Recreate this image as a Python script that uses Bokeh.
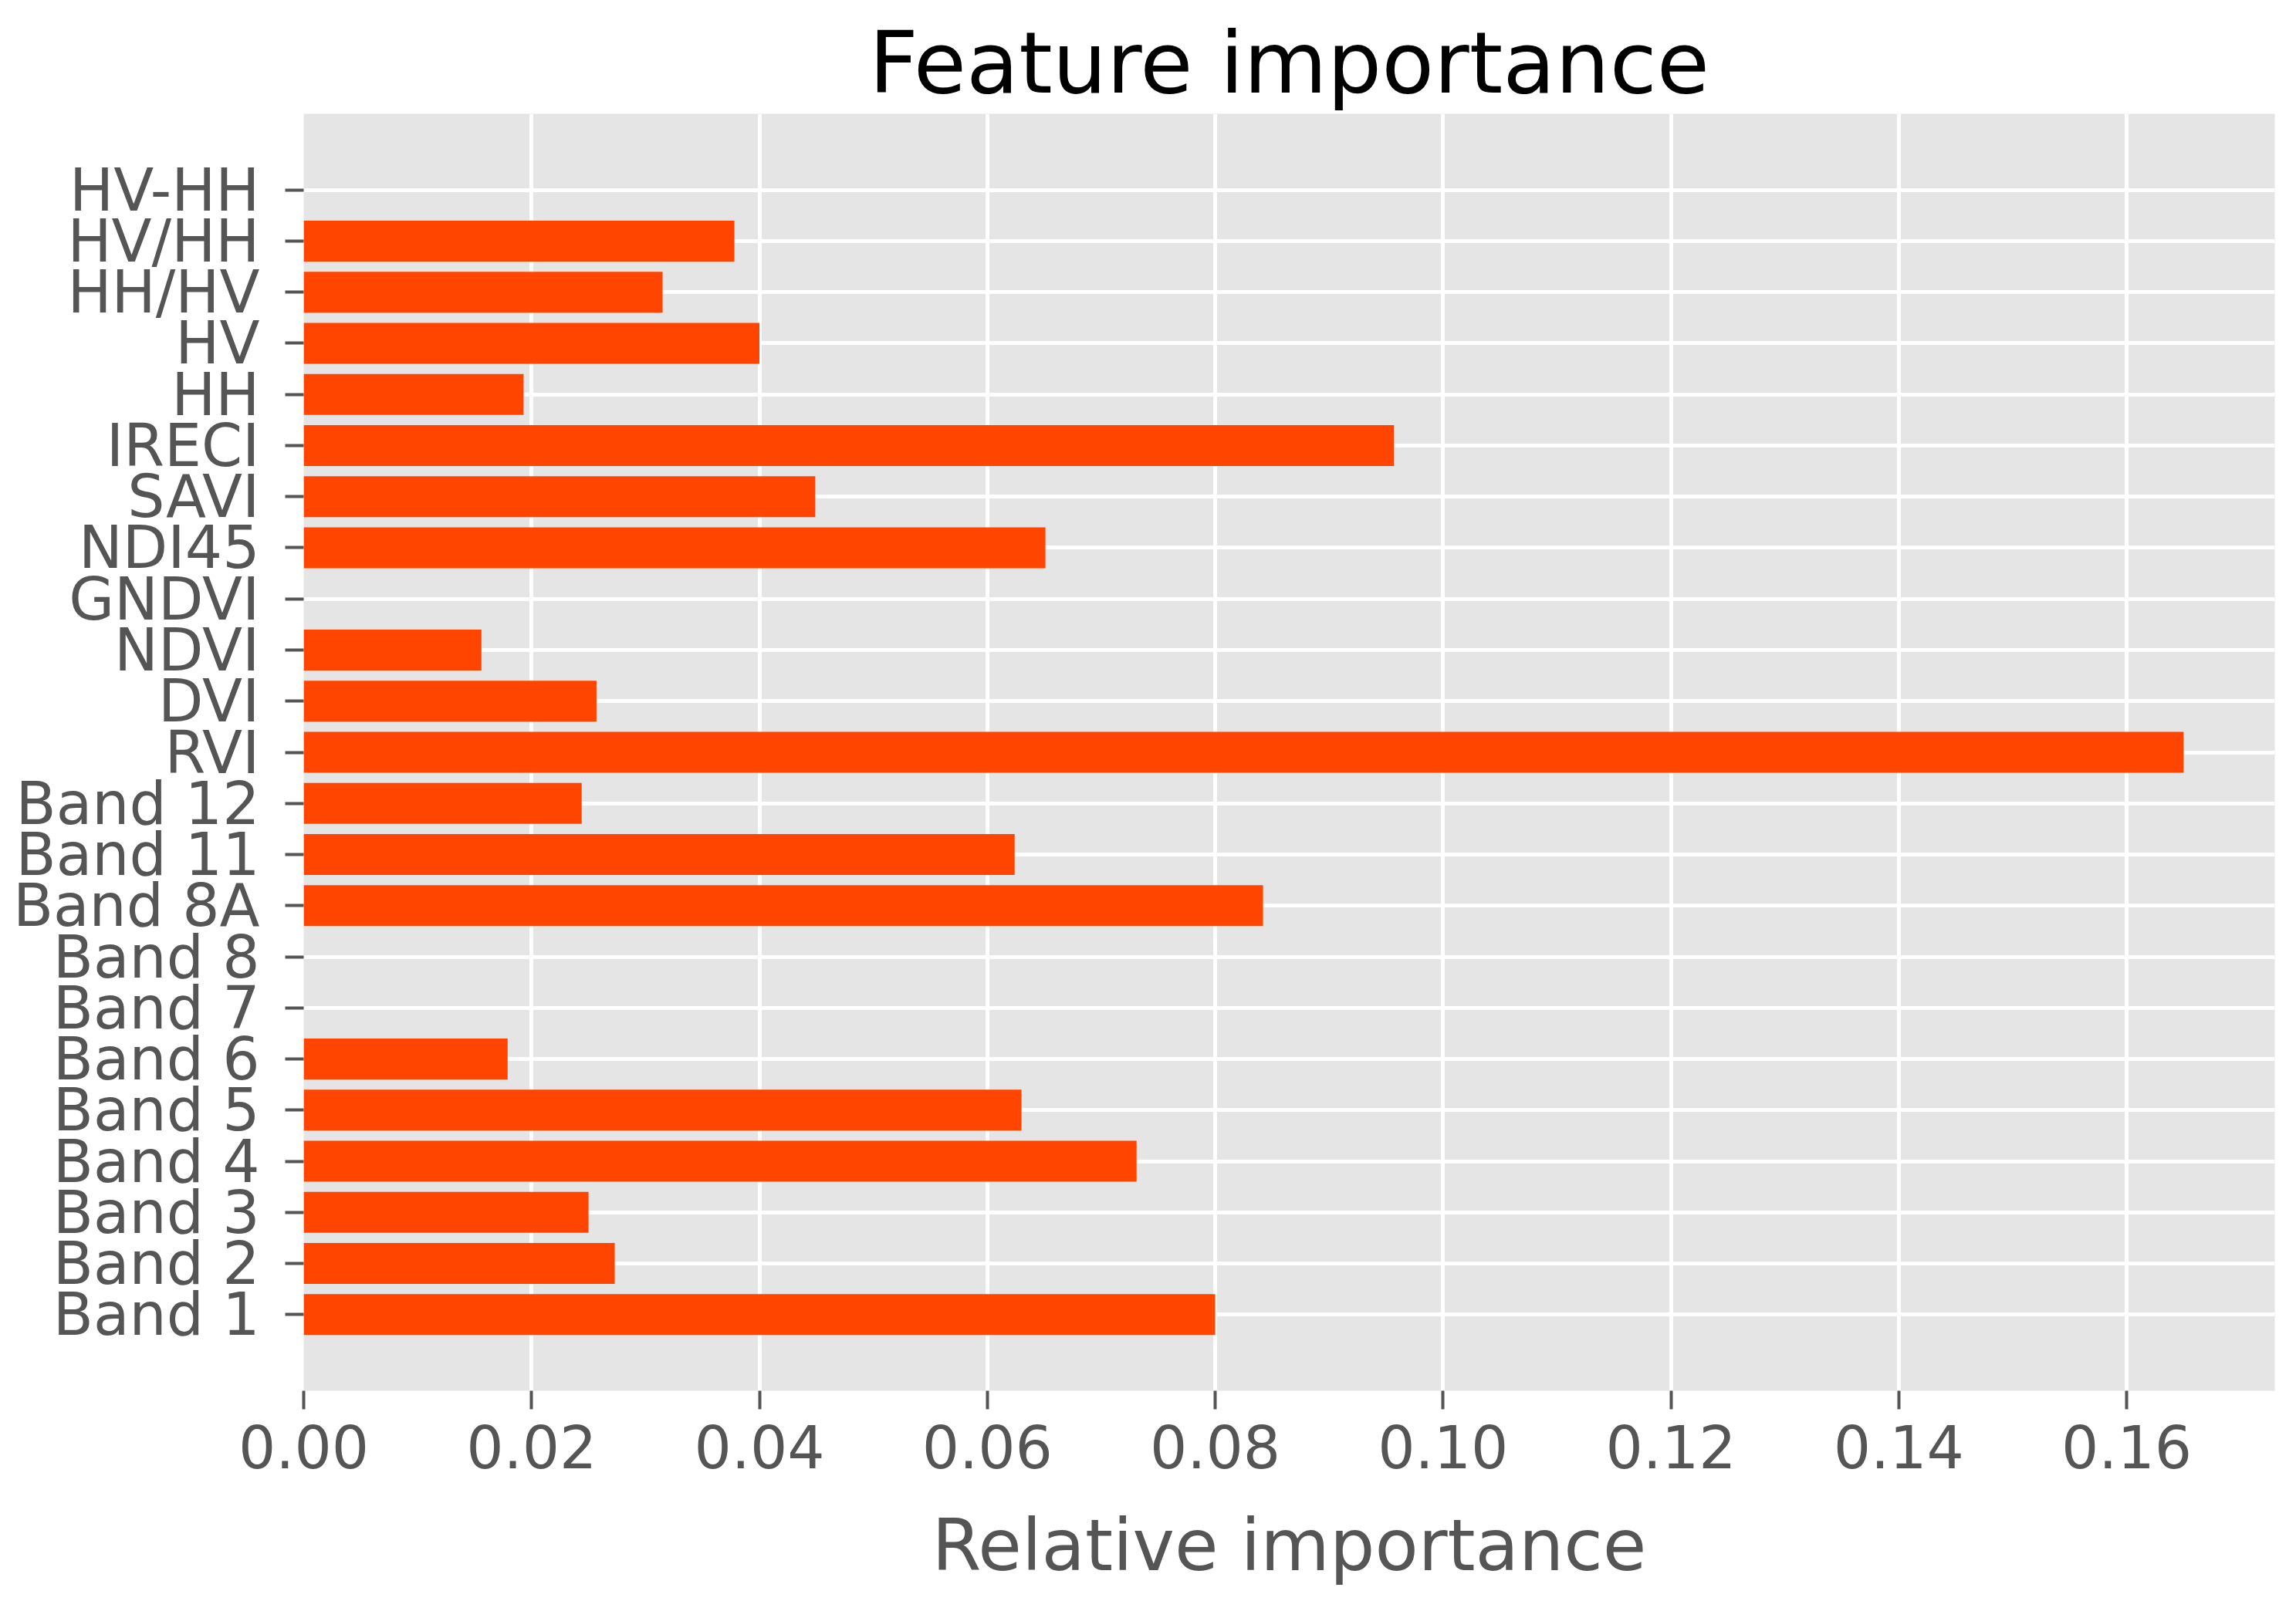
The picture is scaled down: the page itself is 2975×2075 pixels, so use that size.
from bokeh.plotting import figure
from bokeh.models import Range1d, FixedTicker, ColumnDataSource
from bokeh.embed import file_html
from bokeh.resources import INLINE

# Data (bottom to top)
features = ["Band 1", "Band 2", "Band 3", "Band 4", "Band 5", "Band 6",
            "Band 7", "Band 8", "Band 8A", "Band 11", "Band 12", "RVI",
            "DVI", "NDVI", "GNDVI", "NDI45", "SAVI", "IRECI", "HH", "HV",
            "HH/HV", "HV/HH", "HV-HH"]
importance = [0.0800, 0.0273, 0.0250, 0.0731, 0.0630, 0.0179,
              0.0, 0.0, 0.0842, 0.0624, 0.0244, 0.1650,
              0.0257, 0.0156, 0.0, 0.0651, 0.0449, 0.0957, 0.0193, 0.0400,
              0.0315, 0.0378, 0.0]
x_ticks = [0.00, 0.02, 0.04, 0.06, 0.08, 0.10, 0.12, 0.14, 0.16]
title_text = "Feature importance"
x_label = "Relative importance"

pos = list(range(len(features)))
src = ColumnDataSource(dict(y=pos, v=importance, name=features))

W, H = 2959, 2059
FONT = "DejaVu Sans"
GRAY = "#555555"
LEFT, RIGHT, TOP, BOTTOM = 393, 12, 147, 256

p = figure(width=W, height=H, output_backend="svg", toolbar_location=None,
           x_range=Range1d(0, 0.173), y_range=Range1d(-1.49, len(features) - 1 + 1.49),
           min_border_left=LEFT, min_border_right=RIGHT, min_border_top=TOP,
           min_border_bottom=BOTTOM)

p.hbar(y="y", right="v", left=0, height=0.8, source=src,
       fill_color="#FF4500", line_color=None)

p.background_fill_color = "#E5E5E5"
p.border_fill_color = "white"
p.outline_line_color = None

p.title.text = title_text
p.title.text_font = FONT
p.title.text_font_size = "111px"
p.title.text_font_style = "normal"
p.title.text_color = "black"
p.title.align = "center"
p.title.vertical_align = "top"
p.title.standoff = 0

p.xaxis.ticker = FixedTicker(ticks=x_ticks)
p.xaxis.major_label_overrides = {t: f"{t:.2f}" for t in x_ticks}
p.yaxis.ticker = FixedTicker(ticks=pos)
p.yaxis.major_label_overrides = {i: n for i, n in enumerate(features)}

p.xaxis.axis_label = x_label
for ax in (p.xaxis[0], p.yaxis[0]):
    ax.axis_line_color = None
    ax.major_tick_line_color = GRAY
    ax.major_tick_line_width = 4
    ax.major_tick_out = 24
    ax.major_tick_in = 0
    ax.minor_tick_line_color = None
    ax.major_label_text_font = FONT
    ax.major_label_text_font_size = "76px"
    ax.major_label_text_color = GRAY
    ax.axis_label_text_font = FONT
    ax.axis_label_text_font_size = "92px"
    ax.axis_label_text_font_style = "normal"
    ax.axis_label_text_color = GRAY

p.xaxis.major_label_standoff = 20
p.xaxis.axis_label_standoff = 44
p.yaxis.major_label_standoff = 33

p.xgrid.grid_line_color = "white"
p.xgrid.grid_line_width = 5
p.ygrid.grid_line_color = "white"
p.ygrid.grid_line_width = 5
p.ygrid.ticker = FixedTicker(ticks=pos)

open("out.html", "w").write(file_html(p, INLINE))
